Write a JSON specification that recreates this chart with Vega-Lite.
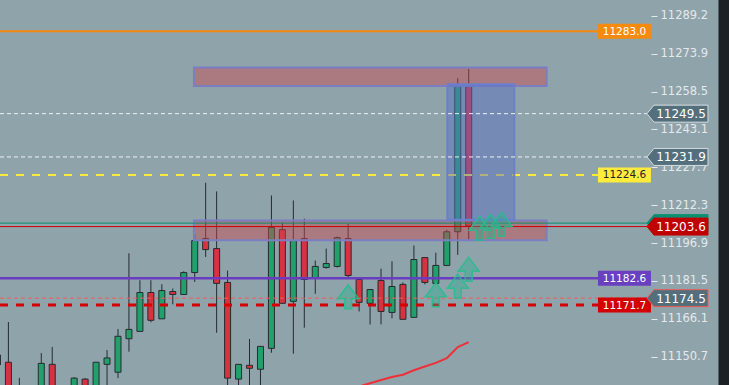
{
  "$schema": "https://vega.github.io/schema/vega-lite/v6.json",
  "width": 729,
  "height": 385,
  "autosize": {"type": "none"},
  "padding": 0,
  "background": "#8fa3ab",
  "config": {"view": {"stroke": null}, "scale": {"continuousPadding": 0}},
  "datasets": {
    "candles": [
      {"k": -1, "o": 11147.4, "h": 11153.4, "l": 11144.5, "c": 11151.4},
      {"k": 0, "o": 11148.45, "h": 11164.8, "l": 11133.2, "c": 11135.2},
      {"k": 1, "o": 11134.5, "h": 11142.1, "l": 11131.0, "c": 11137.5},
      {"k": 2, "o": 11137.0, "h": 11138.5, "l": 11130.0, "c": 11133.5},
      {"k": 3, "o": 11135.0, "h": 11152.2, "l": 11132.0, "c": 11148.0},
      {"k": 4, "o": 11147.6, "h": 11154.65, "l": 11133.0, "c": 11136.0},
      {"k": 5, "o": 11133.0, "h": 11138.0, "l": 11130.0, "c": 11136.5},
      {"k": 6, "o": 11136.0, "h": 11142.3, "l": 11133.0, "c": 11142.0},
      {"k": 7, "o": 11141.6, "h": 11142.0, "l": 11132.0, "c": 11135.0},
      {"k": 8, "o": 11137.0, "h": 11148.5, "l": 11134.0, "c": 11148.45},
      {"k": 9, "o": 11147.6, "h": 11153.4, "l": 11137.0, "c": 11150.2},
      {"k": 10, "o": 11144.4, "h": 11161.95, "l": 11142.0, "c": 11159.0},
      {"k": 11, "o": 11158.0, "h": 11192.75, "l": 11152.75, "c": 11161.8},
      {"k": 12, "o": 11161.0, "h": 11181.8, "l": 11161.0, "c": 11176.8},
      {"k": 13, "o": 11176.8, "h": 11181.8, "l": 11164.7, "c": 11165.5},
      {"k": 14, "o": 11166.1, "h": 11180.2, "l": 11166.1, "c": 11177.6},
      {"k": 15, "o": 11177.2, "h": 11178.4, "l": 11172.0, "c": 11176.0},
      {"k": 16, "o": 11176.0, "h": 11185.45, "l": 11176.0, "c": 11184.9},
      {"k": 17, "o": 11184.9, "h": 11200.3, "l": 11181.1, "c": 11197.9},
      {"k": 18, "o": 11198.7, "h": 11221.4, "l": 11191.25, "c": 11194.25},
      {"k": 19, "o": 11194.65, "h": 11217.9, "l": 11160.45, "c": 11180.5},
      {"k": 20, "o": 11180.9, "h": 11185.7, "l": 11138.0, "c": 11142.0},
      {"k": 21, "o": 11141.6, "h": 11147.6, "l": 11137.5, "c": 11147.6},
      {"k": 22, "o": 11147.2, "h": 11157.9, "l": 11137.0, "c": 11146.0},
      {"k": 23, "o": 11145.6, "h": 11154.9, "l": 11137.0, "c": 11154.9},
      {"k": 24, "o": 11154.1, "h": 11216.25, "l": 11152.3, "c": 11203.2},
      {"k": 25, "o": 11202.35, "h": 11205.2, "l": 11172.4, "c": 11172.4},
      {"k": 26, "o": 11173.2, "h": 11214.2, "l": 11151.9, "c": 11197.9},
      {"k": 27, "o": 11198.7, "h": 11206.8, "l": 11162.5, "c": 11182.1},
      {"k": 28, "o": 11182.5, "h": 11189.8, "l": 11176.25, "c": 11187.4},
      {"k": 29, "o": 11186.95, "h": 11194.65, "l": 11186.5, "c": 11188.6},
      {"k": 30, "o": 11187.4, "h": 11199.5, "l": 11186.95, "c": 11199.1},
      {"k": 31, "o": 11198.7, "h": 11204.8, "l": 11182.9, "c": 11183.7},
      {"k": 32, "o": 11182.1, "h": 11182.1, "l": 11169.1, "c": 11172.8},
      {"k": 33, "o": 11172.4, "h": 11178.0, "l": 11163.8, "c": 11178.0},
      {"k": 34, "o": 11181.7, "h": 11186.5, "l": 11163.85, "c": 11169.1},
      {"k": 35, "o": 11168.7, "h": 11189.5, "l": 11166.3, "c": 11179.25},
      {"k": 36, "o": 11180.1, "h": 11180.9, "l": 11165.9, "c": 11165.9},
      {"k": 37, "o": 11166.7, "h": 11195.9, "l": 11166.7, "c": 11190.2},
      {"k": 38, "o": 11191.0, "h": 11191.0, "l": 11180.1, "c": 11180.9},
      {"k": 39, "o": 11180.5, "h": 11193.0, "l": 11180.5, "c": 11187.8},
      {"k": 40, "o": 11187.8, "h": 11202.35, "l": 11187.8, "c": 11201.5},
      {"k": 41, "o": 11201.5, "h": 11263.95, "l": 11192.1, "c": 11261.1},
      {"k": 42, "o": 11260.7, "h": 11267.7, "l": 11197.7, "c": 11203.8}
    ],
    "ma": [
      {"k": 32, "v": 11138.6},
      {"k": 33, "v": 11139.9},
      {"k": 34, "v": 11141.2},
      {"k": 35, "v": 11142.45},
      {"k": 36, "v": 11143.4},
      {"k": 37, "v": 11145.2},
      {"k": 38, "v": 11146.7},
      {"k": 39, "v": 11148.2},
      {"k": 40, "v": 11150.1},
      {"k": 41, "v": 11154.65},
      {"k": 42, "v": 11156.6}
    ],
    "arrows": [
      {"k": 31, "p": 11175.1},
      {"k": 39, "p": 11175.9},
      {"k": 41, "p": 11179.4},
      {"k": 42, "p": 11186.3},
      {"k": 43, "p": 11202.9},
      {"k": 44, "p": 11203.7},
      {"k": 45, "p": 11204.5}
    ],
    "zones": [
      {"kind": "supply", "x1": 16.93, "x2": 49.11, "top": 11268.25, "bottom": 11260.7},
      {"kind": "supply", "x1": 16.93, "x2": 49.11, "top": 11206.1, "bottom": 11198.0},
      {"kind": "range", "x1": 40.05, "x2": 46.16, "top": 11261.5, "bottom": 11206.4}
    ],
    "levels": [
      {"name": "orange", "price": 11283.0, "label": "11283.0"},
      {"name": "white", "price": 11249.5, "label": "11249.5"},
      {"name": "white", "price": 11231.9, "label": "11231.9"},
      {"name": "yellow", "price": 11224.6, "label": "11224.6"},
      {"name": "green", "price": 11205.0, "label": "11205.0"},
      {"name": "red", "price": 11203.6, "label": "11203.6"},
      {"name": "purple", "price": 11182.6, "label": "11182.6"},
      {"name": "salmon", "price": 11174.5, "label": "11174.5"},
      {"name": "redthick", "price": 11171.7, "label": "11171.7"}
    ]
  },
  "layer": [
    {
      "data": {"name": "candles"},
      "mark": {"type": "rule", "color": "#252b30", "strokeWidth": 1, "clip": true},
      "encoding": {
        "x": {"field": "k", "type": "quantitative", "scale": {"domain": [-0.766, 65.75], "nice": false, "zero": false, "padding": 0}, "axis": null},
        "y": {"field": "l", "type": "quantitative", "scale": {"domain": [11139.2, 11295.7], "nice": false, "zero": false, "padding": 0},
          "axis": {"orient": "right", "offset": -78, "values": [11150.7, 11166.1, 11181.5, 11196.9, 11212.3, 11227.7, 11243.1, 11258.5, 11273.9, 11289.2], "format": ".1f", "domain": false, "grid": false, "ticks": true, "tickSize": 6, "tickColor": "#e4e9ec", "tickWidth": 1, "labelColor": "#e4e9ec", "labelFont": "DejaVu Sans", "labelFontSize": 11.5, "labelPadding": 3, "title": null, "labelOverlap": false}},
        "y2": {"field": "h"}
      }
    },
    {
      "data": {"name": "candles"},
      "mark": {"type": "bar", "size": 6, "stroke": "#262b30", "strokeWidth": 1, "clip": true},
      "encoding": {
        "x": {"field": "k", "type": "quantitative", "scale": {"domain": [-0.766, 65.75], "nice": false, "zero": false, "padding": 0}, "axis": null},
        "y": {"field": "o", "type": "quantitative", "scale": {"domain": [11139.2, 11295.7], "nice": false, "zero": false, "padding": 0},
          "axis": {"orient": "right", "offset": -78, "values": [11150.7, 11166.1, 11181.5, 11196.9, 11212.3, 11227.7, 11243.1, 11258.5, 11273.9, 11289.2], "format": ".1f", "domain": false, "grid": false, "ticks": true, "tickSize": 6, "tickColor": "#e4e9ec", "tickWidth": 1, "labelColor": "#e4e9ec", "labelFont": "DejaVu Sans", "labelFontSize": 11.5, "labelPadding": 3, "title": null, "labelOverlap": false}},
        "y2": {"field": "c"},
        "fill": {"condition": {"test": "datum.c >= datum.o", "value": "#22a06b"}, "value": "#d9323f"}
      }
    },
    {
      "data": {"name": "levels"},
      "transform": [{"filter": "indexof(['orange','yellow','purple','redthick'], datum.name) >= 0"}],
      "mark": {"type": "rule"},
      "encoding": {
        "x": {"datum": -0.766, "type": "quantitative", "scale": {"domain": [-0.766, 65.75], "nice": false, "zero": false, "padding": 0}, "axis": null},
        "x2": {"datum": 53.8},
        "y": {"field": "price", "type": "quantitative", "scale": {"domain": [11139.2, 11295.7], "nice": false, "zero": false, "padding": 0},
          "axis": {"orient": "right", "offset": -78, "values": [11150.7, 11166.1, 11181.5, 11196.9, 11212.3, 11227.7, 11243.1, 11258.5, 11273.9, 11289.2], "format": ".1f", "domain": false, "grid": false, "ticks": true, "tickSize": 6, "tickColor": "#e4e9ec", "tickWidth": 1, "labelColor": "#e4e9ec", "labelFont": "DejaVu Sans", "labelFontSize": 11.5, "labelPadding": 3, "title": null, "labelOverlap": false}},
        "color": {"condition": [
          {"test": "datum.name == 'orange'", "value": "#f5880f"},
          {"test": "datum.name == 'yellow'", "value": "#ffeb3b"},
          {"test": "datum.name == 'purple'", "value": "#6a3cc0"}], "value": "#d60000"},
        "strokeWidth": {"condition": [
          {"test": "datum.name == 'orange'", "value": 2},
          {"test": "datum.name == 'yellow'", "value": 2},
          {"test": "datum.name == 'purple'", "value": 2.5}], "value": 3},
        "strokeDash": {"condition": [
          {"test": "datum.name == 'orange'", "value": [1, 0]},
          {"test": "datum.name == 'purple'", "value": [1, 0]}], "value": [8, 8]}
      }
    },
    {
      "data": {"name": "levels"},
      "transform": [{"filter": "datum.name == 'salmon'"}],
      "mark": {"type": "rule", "color": "#f25a5a", "strokeWidth": 1, "strokeDash": [4, 3]},
      "encoding": {
        "x": {"datum": -0.766, "type": "quantitative", "scale": {"domain": [-0.766, 65.75], "nice": false, "zero": false, "padding": 0}, "axis": null},
        "x2": {"datum": 58.27},
        "y": {"field": "price", "type": "quantitative", "scale": {"domain": [11139.2, 11295.7], "nice": false, "zero": false, "padding": 0},
          "axis": {"orient": "right", "offset": -78, "values": [11150.7, 11166.1, 11181.5, 11196.9, 11212.3, 11227.7, 11243.1, 11258.5, 11273.9, 11289.2], "format": ".1f", "domain": false, "grid": false, "ticks": true, "tickSize": 6, "tickColor": "#e4e9ec", "tickWidth": 1, "labelColor": "#e4e9ec", "labelFont": "DejaVu Sans", "labelFontSize": 11.5, "labelPadding": 3, "title": null, "labelOverlap": false}}
      }
    },
    {
      "data": {"name": "zones"},
      "mark": {"type": "rect", "strokeWidth": 2},
      "encoding": {
        "x": {"field": "x1", "type": "quantitative", "scale": {"domain": [-0.766, 65.75], "nice": false, "zero": false, "padding": 0}, "axis": null},
        "x2": {"field": "x2"},
        "y": {"field": "top", "type": "quantitative", "scale": {"domain": [11139.2, 11295.7], "nice": false, "zero": false, "padding": 0},
          "axis": {"orient": "right", "offset": -78, "values": [11150.7, 11166.1, 11181.5, 11196.9, 11212.3, 11227.7, 11243.1, 11258.5, 11273.9, 11289.2], "format": ".1f", "domain": false, "grid": false, "ticks": true, "tickSize": 6, "tickColor": "#e4e9ec", "tickWidth": 1, "labelColor": "#e4e9ec", "labelFont": "DejaVu Sans", "labelFontSize": 11.5, "labelPadding": 3, "title": null, "labelOverlap": false}},
        "y2": {"field": "bottom"},
        "fill": {"condition": {"test": "datum.kind == 'range'", "value": "#5a70c2"}, "value": "#cf484b"},
        "fillOpacity": {"condition": {"test": "datum.kind == 'range'", "value": 0.48}, "value": 0.45},
        "stroke": {"condition": {"test": "datum.kind == 'range'", "value": "#6b7fcc"}, "value": "#7b7fc2"}
      }
    },
    {
      "data": {"name": "levels"},
      "transform": [{"filter": "indexof(['white','green','red'], datum.name) >= 0"}],
      "mark": {"type": "rule", "strokeWidth": 1},
      "encoding": {
        "x": {"datum": -0.766, "type": "quantitative", "scale": {"domain": [-0.766, 65.75], "nice": false, "zero": false, "padding": 0}, "axis": null},
        "x2": {"datum": 58.27},
        "y": {"field": "price", "type": "quantitative", "scale": {"domain": [11139.2, 11295.7], "nice": false, "zero": false, "padding": 0},
          "axis": {"orient": "right", "offset": -78, "values": [11150.7, 11166.1, 11181.5, 11196.9, 11212.3, 11227.7, 11243.1, 11258.5, 11273.9, 11289.2], "format": ".1f", "domain": false, "grid": false, "ticks": true, "tickSize": 6, "tickColor": "#e4e9ec", "tickWidth": 1, "labelColor": "#e4e9ec", "labelFont": "DejaVu Sans", "labelFontSize": 11.5, "labelPadding": 3, "title": null, "labelOverlap": false}},
        "color": {"condition": [
          {"test": "datum.name == 'white'", "value": "#eef2f4"},
          {"test": "datum.name == 'green'", "value": "#088f6e"}], "value": "#cc0000"},
        "strokeDash": {"condition": {"test": "datum.name == 'white'", "value": [4, 3]}, "value": [1, 0]}
      }
    },
    {
      "data": {"name": "arrows"},
      "mark": {"type": "point", "filled": true, "shape": "M0,-1L0.875,0.17L0.29,0.17L0.29,1L-0.29,1L-0.29,0.17L-0.875,0.17Z", "size": 576, "fill": "#22b08e", "fillOpacity": 0.4, "stroke": "#22c08c", "strokeOpacity": 0.85, "strokeWidth": 1.5, "opacity": 1},
      "encoding": {
        "x": {"field": "k", "type": "quantitative", "scale": {"domain": [-0.766, 65.75], "nice": false, "zero": false, "padding": 0}, "axis": null},
        "y": {"field": "p", "type": "quantitative", "scale": {"domain": [11139.2, 11295.7], "nice": false, "zero": false, "padding": 0},
          "axis": {"orient": "right", "offset": -78, "values": [11150.7, 11166.1, 11181.5, 11196.9, 11212.3, 11227.7, 11243.1, 11258.5, 11273.9, 11289.2], "format": ".1f", "domain": false, "grid": false, "ticks": true, "tickSize": 6, "tickColor": "#e4e9ec", "tickWidth": 1, "labelColor": "#e4e9ec", "labelFont": "DejaVu Sans", "labelFontSize": 11.5, "labelPadding": 3, "title": null, "labelOverlap": false}}
      }
    },
    {
      "data": {"name": "ma"},
      "mark": {"type": "line", "color": "#ee3038", "strokeWidth": 2, "clip": true},
      "encoding": {
        "x": {"field": "k", "type": "quantitative", "scale": {"domain": [-0.766, 65.75], "nice": false, "zero": false, "padding": 0}, "axis": null},
        "y": {"field": "v", "type": "quantitative", "scale": {"domain": [11139.2, 11295.7], "nice": false, "zero": false, "padding": 0},
          "axis": {"orient": "right", "offset": -78, "values": [11150.7, 11166.1, 11181.5, 11196.9, 11212.3, 11227.7, 11243.1, 11258.5, 11273.9, 11289.2], "format": ".1f", "domain": false, "grid": false, "ticks": true, "tickSize": 6, "tickColor": "#e4e9ec", "tickWidth": 1, "labelColor": "#e4e9ec", "labelFont": "DejaVu Sans", "labelFontSize": 11.5, "labelPadding": 3, "title": null, "labelOverlap": false}}
      }
    },
    {
      "data": {"name": "levels"},
      "transform": [{"filter": "indexof(['orange','yellow','purple','redthick'], datum.name) >= 0"}],
      "mark": {"type": "point", "filled": true, "shape": "M-3.533,-1L3.533,-1L3.533,1L-3.533,1Z", "size": 225, "opacity": 1, "strokeWidth": 0},
      "encoding": {
        "x": {"datum": 56.21, "type": "quantitative", "scale": {"domain": [-0.766, 65.75], "nice": false, "zero": false, "padding": 0}, "axis": null},
        "y": {"field": "price", "type": "quantitative", "scale": {"domain": [11139.2, 11295.7], "nice": false, "zero": false, "padding": 0},
          "axis": {"orient": "right", "offset": -78, "values": [11150.7, 11166.1, 11181.5, 11196.9, 11212.3, 11227.7, 11243.1, 11258.5, 11273.9, 11289.2], "format": ".1f", "domain": false, "grid": false, "ticks": true, "tickSize": 6, "tickColor": "#e4e9ec", "tickWidth": 1, "labelColor": "#e4e9ec", "labelFont": "DejaVu Sans", "labelFontSize": 11.5, "labelPadding": 3, "title": null, "labelOverlap": false}},
        "fill": {"condition": [
          {"test": "datum.name == 'orange'", "value": "#f68a0c"},
          {"test": "datum.name == 'yellow'", "value": "#ffeb3b"},
          {"test": "datum.name == 'purple'", "value": "#6a3fc0"}], "value": "#d40000"}
      }
    },
    {
      "data": {"name": "levels"},
      "transform": [{"filter": "indexof(['orange','yellow','purple','redthick'], datum.name) >= 0"}],
      "mark": {"type": "text", "align": "center", "baseline": "middle", "font": "DejaVu Sans", "fontSize": 10.5, "dy": 0.5},
      "encoding": {
        "x": {"datum": 56.21, "type": "quantitative", "scale": {"domain": [-0.766, 65.75], "nice": false, "zero": false, "padding": 0}, "axis": null},
        "y": {"field": "price", "type": "quantitative", "scale": {"domain": [11139.2, 11295.7], "nice": false, "zero": false, "padding": 0},
          "axis": {"orient": "right", "offset": -78, "values": [11150.7, 11166.1, 11181.5, 11196.9, 11212.3, 11227.7, 11243.1, 11258.5, 11273.9, 11289.2], "format": ".1f", "domain": false, "grid": false, "ticks": true, "tickSize": 6, "tickColor": "#e4e9ec", "tickWidth": 1, "labelColor": "#e4e9ec", "labelFont": "DejaVu Sans", "labelFontSize": 11.5, "labelPadding": 3, "title": null, "labelOverlap": false}},
        "text": {"field": "label"},
        "color": {"condition": {"test": "datum.name == 'yellow'", "value": "#1e222d"}, "value": "#ffffff"}
      }
    },
    {
      "data": {"name": "levels"},
      "transform": [{"filter": "indexof(['white','green','red','salmon'], datum.name) >= 0"}],
      "mark": {"type": "point", "filled": true, "shape": "M-3.588,0L-2.765,-1L3.588,-1L3.588,1L-2.765,1Z", "size": 289, "opacity": 1, "strokeWidth": 1},
      "encoding": {
        "x": {"datum": 61.05, "type": "quantitative", "scale": {"domain": [-0.766, 65.75], "nice": false, "zero": false, "padding": 0}, "axis": null},
        "y": {"field": "price", "type": "quantitative", "scale": {"domain": [11139.2, 11295.7], "nice": false, "zero": false, "padding": 0},
          "axis": {"orient": "right", "offset": -78, "values": [11150.7, 11166.1, 11181.5, 11196.9, 11212.3, 11227.7, 11243.1, 11258.5, 11273.9, 11289.2], "format": ".1f", "domain": false, "grid": false, "ticks": true, "tickSize": 6, "tickColor": "#e4e9ec", "tickWidth": 1, "labelColor": "#e4e9ec", "labelFont": "DejaVu Sans", "labelFontSize": 11.5, "labelPadding": 3, "title": null, "labelOverlap": false}},
        "fill": {"condition": [
          {"test": "datum.name == 'green'", "value": "#089170"},
          {"test": "datum.name == 'red'", "value": "#c00000"}], "value": "#536f7c"},
        "stroke": {"condition": [
          {"test": "datum.name == 'white'", "value": "#d4dde1"},
          {"test": "datum.name == 'green'", "value": "#089170"},
          {"test": "datum.name == 'red'", "value": "#c00000"}], "value": "#f05a5a"},
        "order": {"field": "price", "type": "quantitative", "sort": "descending"}
      }
    },
    {
      "data": {"name": "levels"},
      "transform": [{"filter": "indexof(['white','red','salmon'], datum.name) >= 0"}],
      "mark": {"type": "text", "align": "center", "baseline": "middle", "font": "DejaVu Sans", "fontSize": 12, "dy": 0.5, "color": "#ffffff"},
      "encoding": {
        "x": {"datum": 61.37, "type": "quantitative", "scale": {"domain": [-0.766, 65.75], "nice": false, "zero": false, "padding": 0}, "axis": null},
        "y": {"field": "price", "type": "quantitative", "scale": {"domain": [11139.2, 11295.7], "nice": false, "zero": false, "padding": 0},
          "axis": {"orient": "right", "offset": -78, "values": [11150.7, 11166.1, 11181.5, 11196.9, 11212.3, 11227.7, 11243.1, 11258.5, 11273.9, 11289.2], "format": ".1f", "domain": false, "grid": false, "ticks": true, "tickSize": 6, "tickColor": "#e4e9ec", "tickWidth": 1, "labelColor": "#e4e9ec", "labelFont": "DejaVu Sans", "labelFontSize": 11.5, "labelPadding": 3, "title": null, "labelOverlap": false}},
        "text": {"field": "label"}
      }
    },
    {
      "data": {"values": [{}]},
      "mark": {"type": "rect", "color": "#1c2126"},
      "encoding": {
        "x": {"datum": 64.79, "type": "quantitative", "scale": {"domain": [-0.766, 65.75], "nice": false, "zero": false, "padding": 0}, "axis": null},
        "x2": {"datum": 65.75},
        "y": {"datum": 11139.2, "type": "quantitative", "scale": {"domain": [11139.2, 11295.7], "nice": false, "zero": false, "padding": 0},
          "axis": {"orient": "right", "offset": -78, "values": [11150.7, 11166.1, 11181.5, 11196.9, 11212.3, 11227.7, 11243.1, 11258.5, 11273.9, 11289.2], "format": ".1f", "domain": false, "grid": false, "ticks": true, "tickSize": 6, "tickColor": "#e4e9ec", "tickWidth": 1, "labelColor": "#e4e9ec", "labelFont": "DejaVu Sans", "labelFontSize": 11.5, "labelPadding": 3, "title": null, "labelOverlap": false}},
        "y2": {"datum": 11295.7}
      }
    }
  ]
}
